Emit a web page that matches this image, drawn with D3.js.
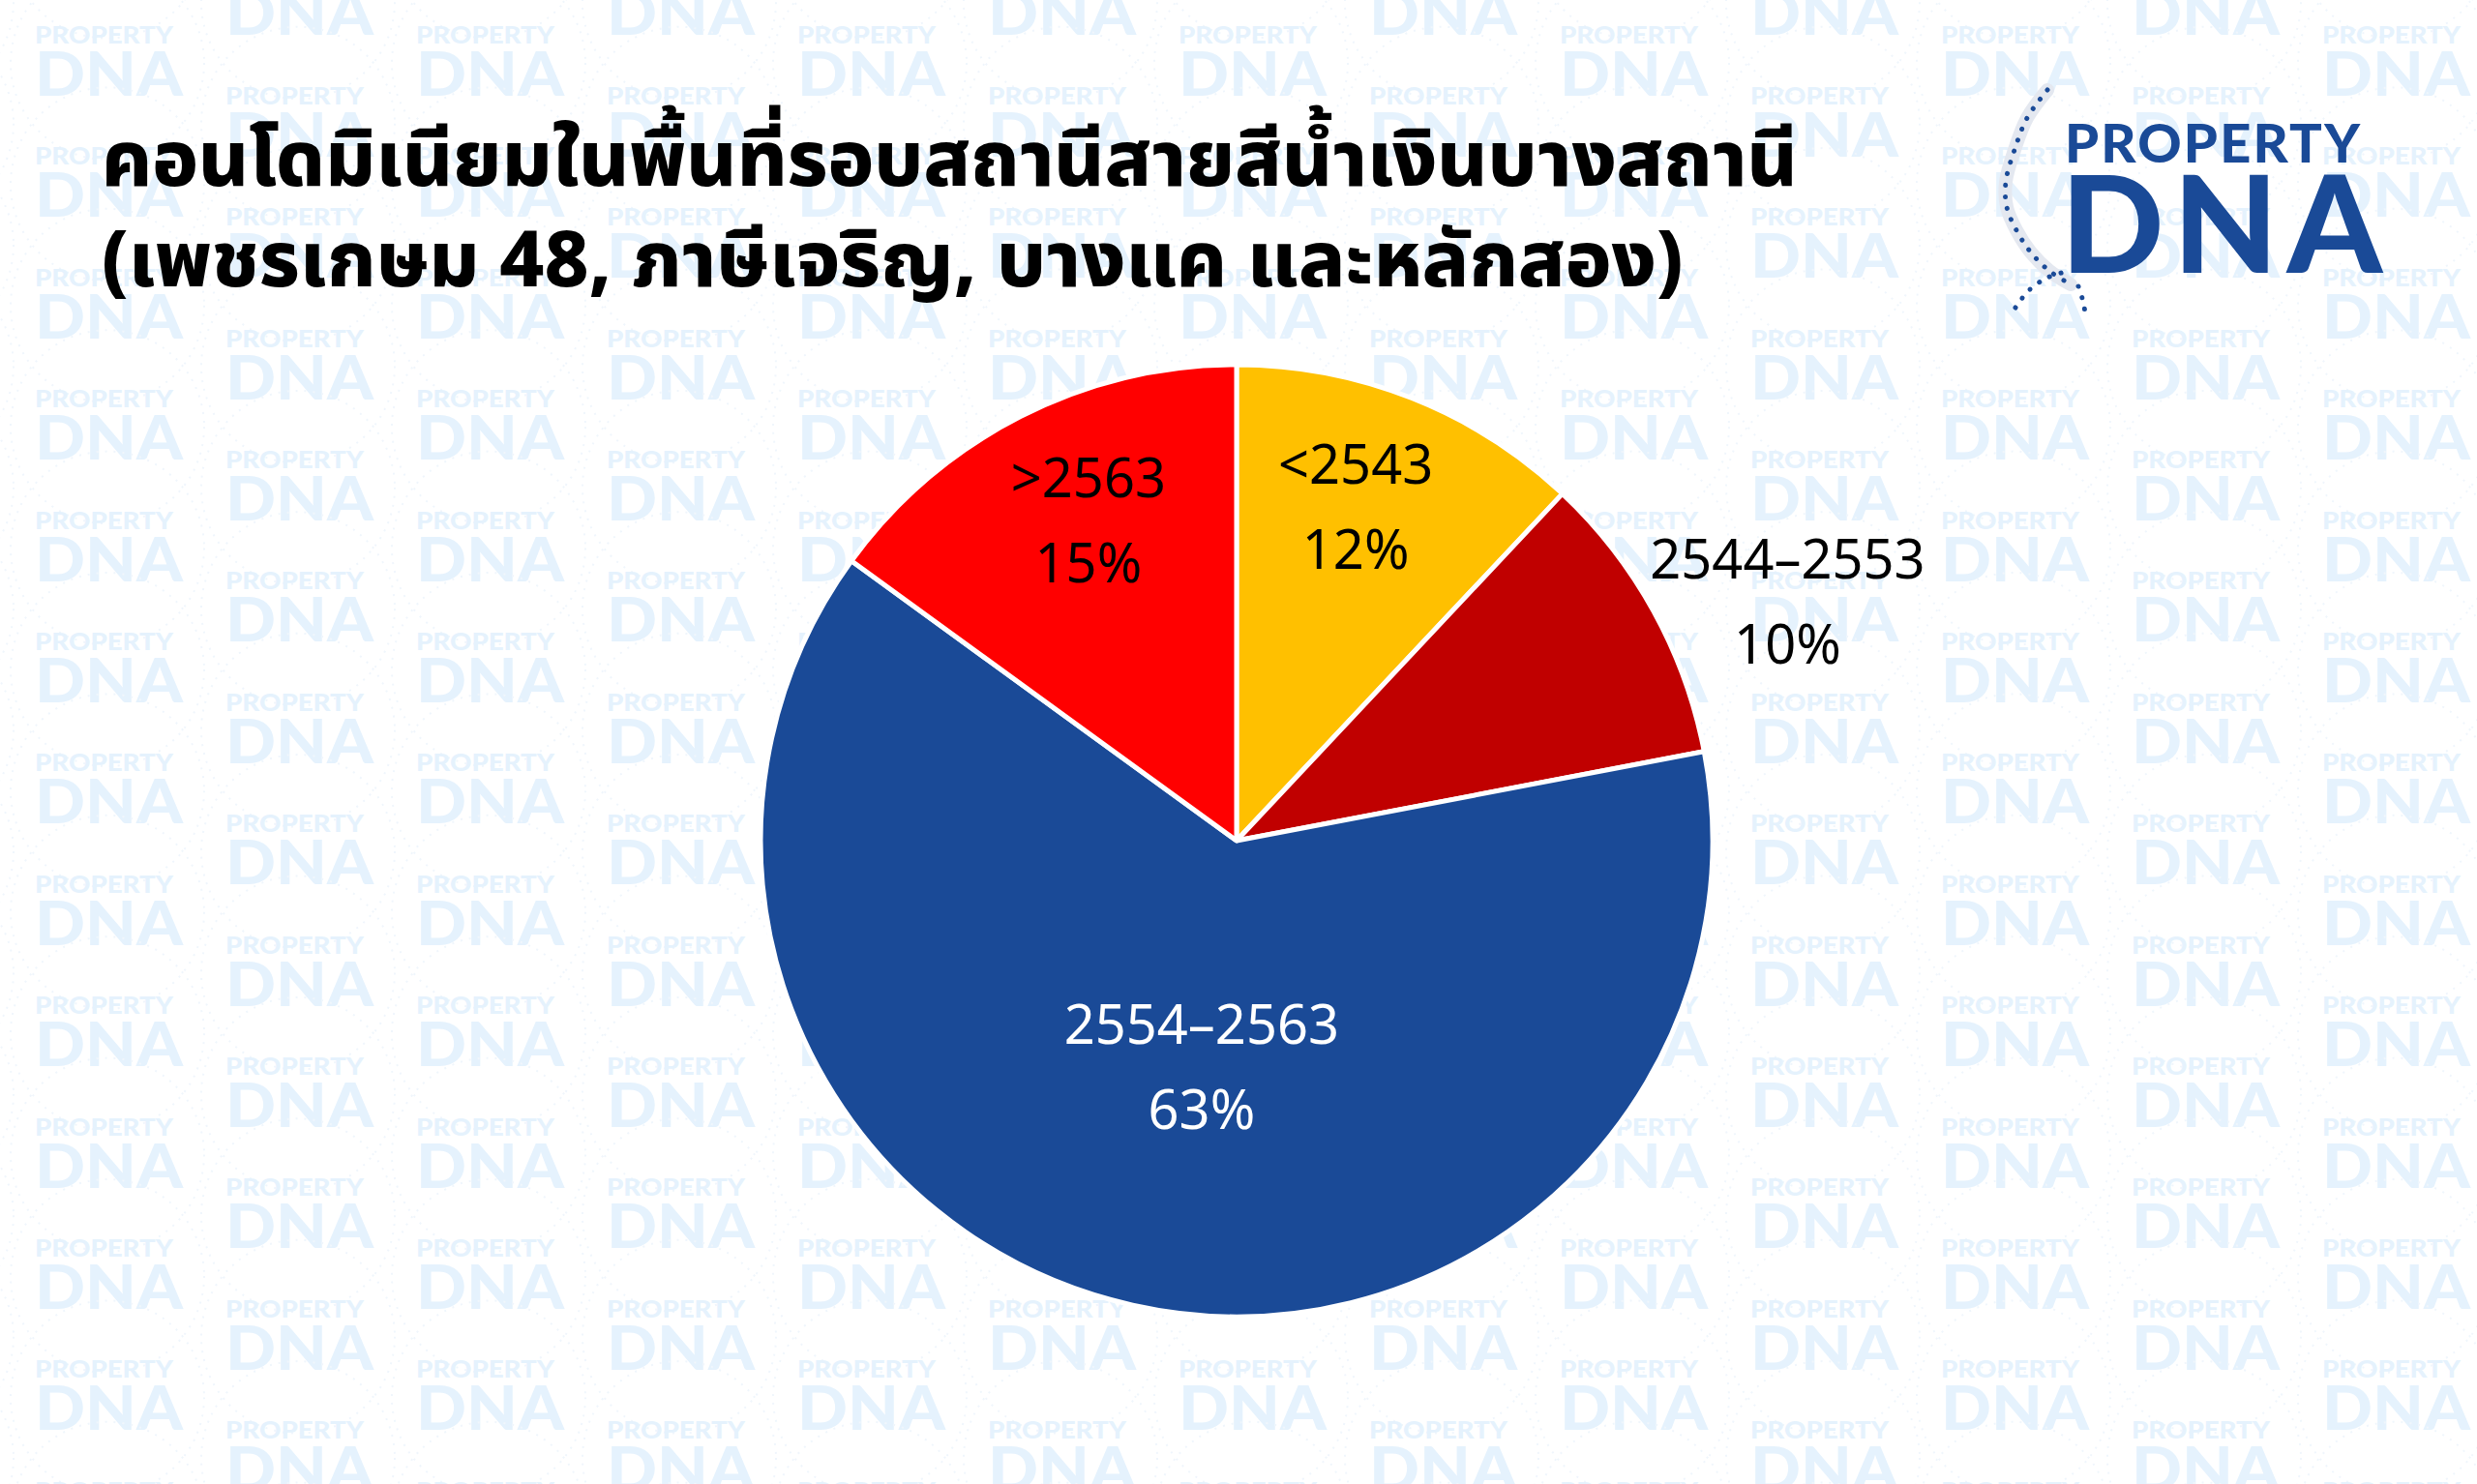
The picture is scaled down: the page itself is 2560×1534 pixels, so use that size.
<!DOCTYPE html>
<html><head><meta charset="utf-8">
<script src="https://cdn.jsdelivr.net/npm/d3@7"></script>
<style>html,body{margin:0;padding:0;background:#fff;overflow:hidden}</style>
</head><body><svg id="c" width="2560" height="1534"></svg>
<script>
// ---- data ----
const titleLines = ["คอนโดมิเนียมในพื้นที่รอบสถานีสายสีน้ำเงินบางสถานี", "(เพชรเกษม 48, ภาษีเจริญ, บางแค และหลักสอง)"];
const categories = ["<2543", "2544–2553", "2554–2563", ">2563"];
const values = [12, 10, 63, 15];
const percentLabels = ["12%", "10%", "63%", "15%"];
const sliceColors = ["#FFC000", "#C00000", "#1A4A97", "#FF0000"];
const labelColors = ["#000000", "#000000", "#FFFFFF", "#000000"];

// ---- layout ----
const W = 2560, H = 1534;
const cx = 1278, cy = 869, R = 492;
const labelRadius = [0.746, 1.262, 0.48, 0.742];
const labelAngleOffset = [-2, 5.3, -3.8, 2.2]; // degrees
const svg = d3.select("#c");
const blue = "#1A4A97";
const wm = "#E5F2FD";

// ---- watermark ----
const wmG = svg.append("g");
const colW = 197, rowH = 125.4;
for (let c = -1; c < 14; c++) {
  for (let r = -1; r < 14; r++) {
    const x0 = 36 + c * colW;
    const y0 = 45 + r * rowH + ((c % 2 + 2) % 2 === 1 ? rowH / 2 : 0);
    const t = wmG.append("g").attr("transform", `translate(${x0},${y0})`);
    t.append("circle").attr("cx", 75).attr("cy", 20).attr("r", 100)
      .attr("fill", "none").attr("stroke", "#F0F6FC").attr("stroke-width", 2)
      .attr("stroke-dasharray", "2 7");
    t.append("text").attr("x", 0).attr("y", 0).text("PROPERTY")
      .attr("font-family", "Lato, 'Open Sans', sans-serif").attr("font-weight", 900)
      .attr("font-size", 24).attr("fill", wm)
      .attr("textLength", 143).attr("lengthAdjust", "spacingAndGlyphs");
    t.append("text").attr("x", 0).attr("y", 54).text("DNA")
      .attr("font-family", "Lato, 'Open Sans', sans-serif").attr("font-weight", 900)
      .attr("font-size", 63).attr("fill", wm)
      .attr("textLength", 153).attr("lengthAdjust", "spacingAndGlyphs");
  }
}

// ---- title ----
const titleG = svg.append("g");
const tfont = "'Noto Sans Thai', 'Noto Sans Thai UI', Kanit, Prompt, 'Noto Sans', sans-serif";
const t1 = titleG.append("text").attr("x", 105).attr("y", 192).text(titleLines[0])
  .attr("font-family", tfont).attr("font-weight", 800).attr("font-size", 100).attr("fill", "#000");
const t2 = titleG.append("text").attr("x", 105).attr("y", 296).text(titleLines[1])
  .attr("font-family", tfont).attr("font-weight", 800).attr("font-size", 100).attr("fill", "#000");
const len1 = t1.node().getComputedTextLength();
const fs = 100 * 1753 / len1;
t1.attr("font-size", fs); t2.attr("font-size", fs);

// ---- logo ----
const logo = svg.append("g");
const helixPts1 = [[2116,93],[2095,122],[2082,155],[2073,188],[2074,214],[2084,238],[2099,261],[2118,280],[2140,294]];
const helixPts2 = [[2083,318],[2097,300],[2116,287],[2134,281]];
const helixPts3 = [[2148,296],[2153,312],[2156,330]];
const line = d3.line().curve(d3.curveCatmullRom);
logo.append("path").attr("d", line(helixPts1)).attr("fill", "none")
  .attr("stroke", "#E4E8F0").attr("stroke-width", 14).attr("stroke-linecap", "round");
[helixPts1, helixPts2, helixPts3].forEach(p => {
  logo.append("path").attr("d", line(p)).attr("fill", "none")
    .attr("stroke", blue).attr("stroke-width", 5).attr("stroke-linecap", "round")
    .attr("stroke-dasharray", "0.1 12");
});
logo.append("text").attr("x", 2134).attr("y", 168).text("PROPERTY")
  .attr("font-family", "Lato, 'Open Sans', sans-serif").attr("font-weight", 900)
  .attr("font-size", 56).attr("fill", blue)
  .attr("textLength", 305).attr("lengthAdjust", "spacing");
logo.append("text").attr("x", 2130).attr("y", 282).text("DNA")
  .attr("font-family", "Lato, 'Open Sans', sans-serif").attr("font-weight", 900)
  .attr("font-size", 140).attr("fill", blue)
  .attr("textLength", 332).attr("lengthAdjust", "spacing");

// ---- pie ----
const pie = d3.pie().sort(null).value(d => d)(values);
const arc = d3.arc().innerRadius(0).outerRadius(R);
const pg = svg.append("g").attr("transform", `translate(${cx},${cy})`);
pg.selectAll("path.slice").data(pie).join("path").attr("class", "slice")
  .attr("d", arc).attr("fill", (d, i) => sliceColors[i])
  .attr("stroke", "#fff").attr("stroke-width", 5).attr("stroke-linejoin", "round");

const lfont = "'Noto Sans', 'Open Sans', sans-serif";
const lg = pg.selectAll("g.lab").data(pie).join("g").attr("class", "lab")
  .attr("transform", (d, i) => {
    const a = (d.startAngle + d.endAngle) / 2 + labelAngleOffset[i] * Math.PI / 180;
    const rr = labelRadius[i] * R;
    return `translate(${rr * Math.sin(a)},${-rr * Math.cos(a)})`;
  });
lg.append("text").attr("text-anchor", "middle").attr("y", -23.5)
  .attr("font-family", lfont).attr("font-size", 56)
  .attr("fill", (d, i) => labelColors[i]).text((d, i) => categories[i]);
lg.append("text").attr("text-anchor", "middle").attr("y", 64.5)
  .attr("font-family", lfont).attr("font-size", 56)
  .attr("fill", (d, i) => labelColors[i]).text((d, i) => percentLabels[i]);
</script></body></html>
